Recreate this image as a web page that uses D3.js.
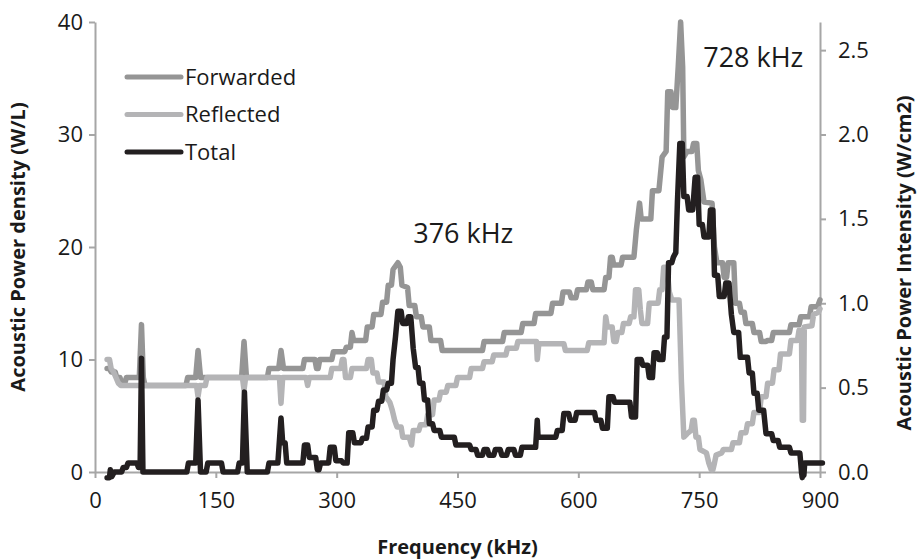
<!DOCTYPE html>
<html>
<head>
<meta charset="utf-8">
<script src="https://cdn.jsdelivr.net/npm/d3@7/dist/d3.min.js"></script>
<style>
  html, body { margin: 0; padding: 0; background: #fff; }
  svg { display: block; font-family: "Open Sans", "DejaVu Sans", sans-serif; }
</style>
</head>
<body>
<svg id="chart" width="919" height="559"></svg>
<script>
// Acoustic power spectrum: [frequency kHz, power density W/L]
const forwarded = [[15,9.2],[18,9.2],[20,8.9],[25,8.9],[27,8.4],[31,8.4],[33,7.9],[37,7.9],[39,8.4],[55,8.4],[57.7,13.1],[60,8.4],[62,7.7],[113,7.7],[115,8.4],[125,8.4],[127.9,10.8],[131,8.4],[182,8.4],[185,11.6],[188,8.4],[214,8.4],[216,9.2],[228,9.2],[230.9,10.8],[234,9.2],[258,9.2],[260,10.0],[273,10.0],[275,9.2],[277,9.2],[279,10.0],[294,10.0],[296,10.7],[310,10.7],[312,11.1],[317,11.1],[319,12.4],[321,11.7],[336,11.7],[338,12.9],[344,12.9],[346,14.0],[355,14.0],[357,15.1],[362,15.1],[364,16.6],[368,16.6],[370,18.0],[374,18.4],[376,18.6],[379,18.2],[381,16.6],[388,16.4],[390,14.8],[397,14.8],[399,13.8],[405,13.8],[407,12.9],[415,12.9],[417,11.7],[429,11.7],[431,10.8],[481,10.8],[483,11.6],[506,11.6],[508,12.4],[529,12.4],[531,13.2],[545,13.2],[547,14.1],[566,14.1],[568,15.0],[579,15.0],[581,16.0],[589,16.0],[591,15.5],[597,15.5],[599,16.2],[610,16.2],[612,16.9],[616,16.9],[618,16.2],[632,16.2],[634,17.3],[638,17.3],[640,19.1],[642,19.1],[644,18.4],[653,18.4],[655,19.1],[669,19.1],[672,21.5],[676,23.9],[678,22.5],[690,22.5],[692,25.0],[700,25.0],[704,28.0],[709,28.5],[711,33.8],[715,33.8],[717,32.4],[721,32.4],[724,36.0],[727,40.0],[729.5,36.0],[731,28.0],[735,28.5],[741,28.5],[743,29.2],[747,29.2],[749,26.8],[752,26.0],[756,24.0],[766,23.9],[769,20.0],[772,18.6],[779,18.6],[781,17.3],[784,17.3],[786,18.6],[793,18.6],[795,15.0],[800,15.0],[802,14.2],[806,14.2],[808,13.2],[816,13.2],[818,12.4],[825,12.4],[827,11.6],[833,11.6],[835,11.7],[840,11.7],[842,12.4],[862,12.4],[864,13.1],[874,13.1],[876,13.8],[887,13.8],[889,14.7],[897,14.7],[900,15.3]];

const reflected = [[15,10.0],[18,10.0],[20,9.2],[23,8.9],[26,8.4],[29,7.9],[32,7.7],[126,7.7],[127.9,6.7],[130,7.7],[137,7.7],[139,8.4],[183,8.4],[185,7.3],[187,8.4],[229,8.4],[230.9,6.1],[233,8.4],[262,8.4],[264,7.7],[266,8.4],[292,8.4],[294,9.2],[305,9.2],[307,10.0],[309,10.0],[311,8.4],[317,8.4],[319,9.2],[337,9.2],[339,10.0],[343,10.0],[345,8.8],[350,8.8],[352,8.0],[359,8.0],[361,6.7],[366,6.2],[369,5.5],[372,4.6],[375,4.0],[380,4.0],[382,3.1],[390,3.1],[393,2.4],[395,3.7],[402,3.7],[404,4.2],[411,4.2],[413,5.1],[419,5.1],[421,6.4],[427,6.4],[429,7.1],[436,7.1],[438,7.7],[448,7.7],[450,8.4],[465,8.4],[467,9.2],[481,9.2],[483,9.8],[493,9.8],[495,10.4],[510,10.4],[512,11.0],[523,11.0],[525,11.6],[548,11.6],[549,10.0],[551,11.4],[582,11.4],[584,10.8],[611,10.8],[613,11.5],[632,11.5],[634,13.8],[636,12.9],[642,12.9],[644,11.6],[647,11.6],[649,12.4],[654,12.4],[656,13.2],[663,13.2],[665,13.8],[669,13.8],[671,16.2],[675,16.2],[677,14.4],[679,13.2],[686,13.2],[688,15.0],[699,15.0],[701,16.2],[704,16.2],[706,18.2],[710,18.2],[713,16.0],[716,15.3],[725,15.3],[728,8.0],[731,3.1],[735,3.4],[740,3.7],[742,4.6],[744,4.6],[746,3.1],[749,3.1],[751,2.0],[759,1.7],[762,0.8],[765,0.2],[767,0.2],[769,0.8],[771,1.5],[778,1.7],[780,2.0],[790,2.0],[792,2.6],[800,2.6],[802,3.5],[808,3.5],[810,4.3],[816,4.3],[818,5.3],[825,5.3],[827,6.7],[833,6.7],[835,7.9],[841,7.9],[843,9.1],[849,9.1],[851,10.5],[862,10.5],[864,11.7],[872,11.7],[874,12.6],[877,12.6],[878,4.6],[879.5,4.6],[880.5,12.9],[890,13.0],[892,14.0],[898,14.2],[900,14.5]];

const total = [[15,-0.5],[18,-0.5],[19,0.2],[21,-0.4],[24,0.0],[33,0.0],[35,0.4],[39,0.4],[41,0.8],[52,0.8],[54,0.4],[56,0.4],[57.7,10.1],[59.5,0.0],[114,0.0],[116,0.8],[125,0.8],[127.9,6.4],[131,0.0],[138,0.0],[140,0.8],[157,0.8],[159,0.0],[177,0.0],[179,0.8],[183,0.8],[185.5,7.1],[189,0.0],[214,0.0],[216,0.8],[227,0.8],[230.9,4.8],[233,2.6],[236,2.6],[238,0.8],[258,0.8],[260,2.4],[264,2.4],[266,1.3],[274,1.3],[276,0.2],[278,0.2],[280,0.8],[290,0.8],[292,2.2],[297,2.2],[299,1.0],[306,1.0],[308,0.8],[313,0.8],[315,3.5],[320,3.5],[322,2.6],[330,2.6],[332,3.0],[337,3.0],[339,4.0],[344,4.0],[346,5.5],[350,5.5],[352,6.3],[356,6.3],[358,7.3],[362,7.3],[364,7.9],[368,7.9],[370,10.0],[373,12.0],[376,14.3],[380,14.3],[382,13.2],[387,13.2],[389,13.8],[392,13.8],[395,11.0],[398,9.3],[401,9.3],[403,7.9],[407,7.9],[409,6.4],[413,6.4],[415,4.3],[419,4.3],[421,3.7],[428,3.7],[430,3.1],[446,3.1],[448,2.4],[465,2.4],[467,2.0],[473,2.0],[475,1.5],[481,1.5],[483,2.0],[487,2.0],[489,1.5],[495,1.5],[497,2.0],[503,2.0],[505,1.5],[511,1.5],[513,2.0],[520,2.0],[522,1.5],[528,1.5],[530,2.2],[547,2.2],[549,4.6],[550,3.1],[572,3.1],[574,3.7],[580,3.7],[582,5.2],[588,5.2],[590,4.6],[596,4.6],[598,5.3],[620,5.3],[622,4.6],[628,4.6],[630,3.9],[636,3.9],[638,6.7],[643,6.7],[645,6.2],[664,6.2],[666,4.9],[671,4.9],[673,10.0],[678,10.0],[680,9.5],[686,9.5],[688,8.4],[692,8.4],[694,10.6],[698,10.6],[700,10.0],[705,10.0],[707,12.0],[710,12.0],[712,18.6],[716,18.6],[718,19.1],[721,19.5],[723,24.0],[726,29.2],[729,29.2],[731,24.5],[735,24.5],[737,23.3],[742,23.3],[745,26.2],[748,26.2],[750,22.0],[754,22.0],[756,20.9],[762,20.9],[764,23.3],[767,23.3],[769,17.5],[773,17.5],[775,15.6],[781,15.6],[783,16.8],[787,16.8],[790,14.0],[793,12.4],[799,12.4],[801,10.2],[810,10.2],[812,8.8],[816,8.8],[818,7.0],[822,7.0],[824,5.5],[830,5.5],[833,3.4],[840,3.4],[842,2.8],[848,2.8],[850,2.2],[862,2.2],[864,1.7],[875,1.7],[877,0.0],[878,-0.5],[879,0.3],[880,-0.3],[881,0.8],[903,0.8]];

const seriesNames = ["Forwarded", "Reflected", "Total"];
const seriesColors = ["#959595", "#b4b4b6", "#231f20"];

const xTicks = [0, 150, 300, 450, 600, 750, 900];
const yLeftTicks = [0, 10, 20, 30, 40];
const yRightTicks = [0, 0.5, 1.0, 1.5, 2.0, 2.5];

const peakLabels = [
  { text: "376 kHz", f: 395, v: 20.4 },
  { text: "728 kHz", f: 755, v: 36.0 }
];

// 1 W/cm2 on the probe face corresponds to 15 W/L in the vessel
const densityToIntensity = 1 / 15;

const svg = d3.select("#chart");
const plotLeft = 95, plotRight = 820, plotTop = 22, plotBottom = 472;

const x = d3.scaleLinear().domain([0, 900]).range([plotLeft, plotRight]);
const y = d3.scaleLinear().domain([0, 40]).range([plotBottom, plotTop]);
const y2 = d3.scaleLinear().domain([0, 40 * densityToIntensity]).range([plotBottom, plotTop]);

const axisColor = "#a6a6a6";
const tickFont = 22;

function styleAxis(g) {
  g.select(".domain").attr("stroke", axisColor).attr("stroke-width", 2);
  g.selectAll(".tick line").attr("stroke", axisColor).attr("stroke-width", 2);
  g.selectAll(".tick text")
    .attr("fill", "#1a1a1a")
    .style("font-size", tickFont + "px")
    .style("font-family", "'Open Sans', sans-serif");
}

svg.append("g")
  .attr("transform", `translate(0,${plotBottom})`)
  .call(d3.axisBottom(x).tickValues(xTicks).tickSize(6).tickSizeOuter(0).tickPadding(14))
  .call(styleAxis);

svg.append("g")
  .attr("transform", `translate(${plotLeft},0)`)
  .call(d3.axisLeft(y).tickValues(yLeftTicks).tickSize(6).tickSizeOuter(0).tickPadding(6))
  .call(styleAxis);

svg.append("g")
  .attr("transform", `translate(${plotRight},0)`)
  .call(d3.axisRight(y2).tickValues(yRightTicks).tickFormat(d3.format(".1f")).tickSize(6).tickSizeOuter(0).tickPadding(12))
  .call(styleAxis);

// Axis titles
svg.append("text")
  .attr("x", (plotLeft + plotRight) / 2).attr("y", 554)
  .attr("text-anchor", "middle")
  .style("font-size", "20px").style("font-weight", "bold")
  .attr("fill", "#1a1a1a")
  .text("Frequency (kHz)");

svg.append("text")
  .attr("transform", `translate(25,${(plotTop + plotBottom) / 2}) rotate(-90)`)
  .attr("text-anchor", "middle")
  .style("font-size", "20px").style("font-weight", "bold")
  .attr("fill", "#1a1a1a")
  .text("Acoustic Power density (W/L)");

svg.append("text")
  .attr("transform", `translate(911,${(plotTop + plotBottom) / 2 + 16}) rotate(-90)`)
  .attr("text-anchor", "middle")
  .style("font-size", "20px").style("font-weight", "bold")
  .attr("fill", "#1a1a1a")
  .text("Acoustic Power Intensity (W/cm2)");

// Spectra
const line = d3.line().x(d => x(d[0])).y(d => y(d[1]));
[forwarded, reflected, total].forEach((data, i) => {
  svg.append("path")
    .datum(data)
    .attr("d", line)
    .attr("fill", "none")
    .attr("stroke", seriesColors[i])
    .attr("stroke-width", 5.5)
    .attr("stroke-linejoin", "round")
    .attr("stroke-linecap", "round");
});

// Peak annotations
peakLabels.forEach(p => {
  svg.append("text")
    .attr("x", x(p.f)).attr("y", y(p.v))
    .style("font-size", "27px")
    .attr("fill", "#1a1a1a")
    .text(p.text);
});

// Legend
const legend = svg.append("g");
seriesNames.forEach((name, i) => {
  const ly = 77 + i * 37.5;
  legend.append("line")
    .attr("x1", 127).attr("x2", 181).attr("y1", ly).attr("y2", ly)
    .attr("stroke", seriesColors[i]).attr("stroke-width", 5)
    .attr("stroke-linecap", "round");
  legend.append("text")
    .attr("x", 185).attr("y", ly).attr("dy", "0.35em")
    .style("font-size", "22px")
    .attr("fill", "#1a1a1a")
    .text(name);
});
</script>
</body>
</html>
